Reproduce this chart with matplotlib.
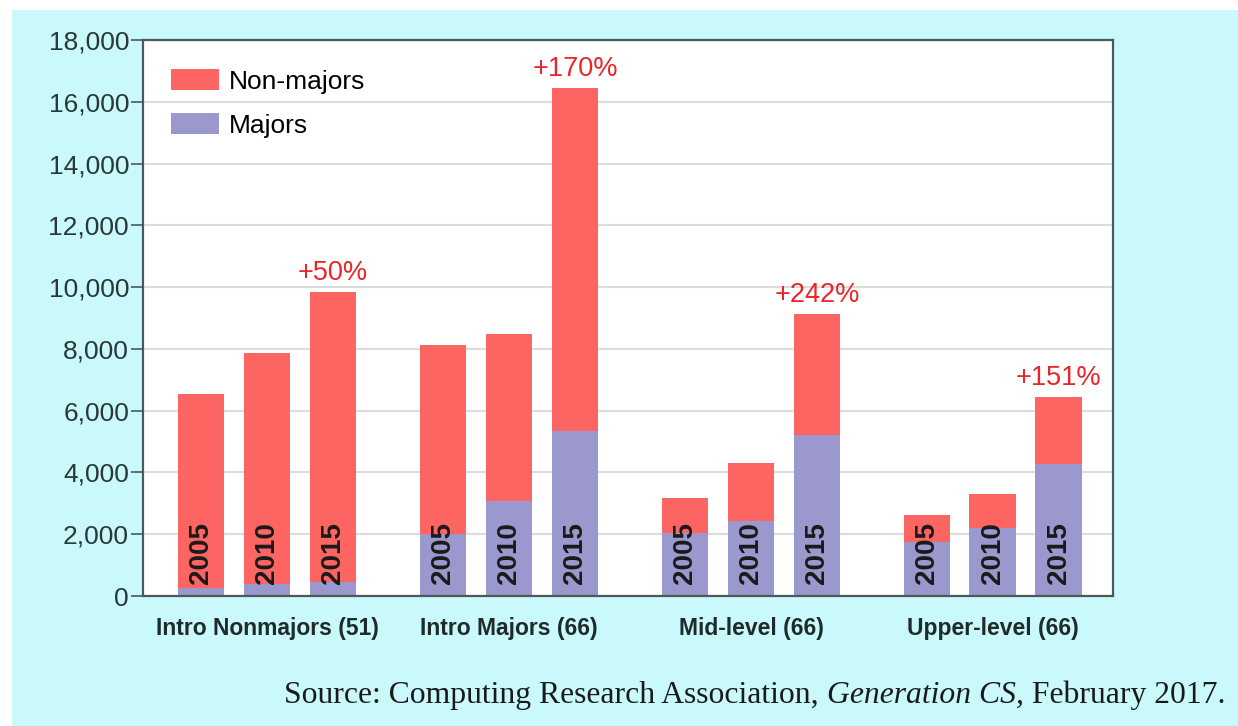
import numpy as np
import matplotlib.pyplot as plt
from matplotlib.patches import Rectangle

groups = ['Intro Nonmajors (51)', 'Intro Majors (66)', 'Mid-level (66)', 'Upper-level (66)']
years = ['2005', '2010', '2015']
majors = np.array([[250, 400, 450],
                   [2000, 3070, 5340],
                   [2030, 2430, 5210],
                   [1750, 2200, 4270]])
totals = np.array([[6540, 7870, 9840],
                   [8130, 8480, 16440],
                   [3170, 4300, 9130],
                   [2620, 3300, 6440]])
non_majors = totals - majors
growth = ['+50%', '+170%', '+242%', '+151%']

RED = '#fd6563'
BLUE = '#9a98cc'
CYAN = '#c9f9fa'
DARK = '#2a3838'

plt.rcParams['font.family'] = ['Liberation Sans', 'DejaVu Sans']

fig = plt.figure(figsize=(12.38, 7.26), dpi=100)
fig.patch.set_facecolor('white')
fig.patches.append(Rectangle((12 / 1238, 0), 1, 1 - 10 / 726, transform=fig.transFigure,
                             facecolor=CYAN, edgecolor='none', zorder=-5))

ax = fig.add_axes([143 / 1238, 130 / 726, 970 / 1238, 556 / 726])
ax.set_facecolor('white')

step = 3.667
w = 0.71
for g in range(len(groups)):
    x = g * step + np.arange(len(years))
    ax.bar(x, majors[g], w, color=BLUE, zorder=2, label='Majors' if g == 0 else None)
    ax.bar(x, non_majors[g], w, bottom=majors[g], color=RED, zorder=2,
           label='Non-majors' if g == 0 else None)
    for i, yr in enumerate(years):
        ax.annotate(yr, (x[i], 0), xytext=(0, 12), textcoords='offset pixels',
                    rotation=90, ha='center', va='bottom', fontsize=20,
                    fontweight='bold', color='#1a1a1a', zorder=3)
    ax.annotate(growth[g], (x[-1], totals[g][-1]), xytext=(0, 6), textcoords='offset pixels',
                ha='center', va='bottom', fontsize=19.5, color='#e8262b', zorder=3)

ax.set_xlim(-0.88, 3 * step + 2 + 0.82)
ax.set_ylim(0, 18000)
ax.set_yticks(np.arange(0, 18001, 2000))
ax.set_yticklabels([f'{v:,}' for v in range(0, 18001, 2000)], fontsize=19, color=DARK)
ax.set_xticks([g * step + 1 for g in range(len(groups))])
ax.set_xticklabels(groups, fontsize=16.5, fontweight='bold', color='#1f2a2a')
ax.tick_params(axis='x', length=0, pad=15)
ax.tick_params(axis='y', length=9, width=1.2, color='#4a5a5a', pad=1)
ax.grid(axis='y', color='#dcdcdc', linewidth=1.5, zorder=1)
ax.set_axisbelow(True)
for s in ax.spines.values():
    s.set_color('#4a5a5a')
    s.set_linewidth(1.6)

handles, labels = ax.get_legend_handles_labels()
ax.legend(handles[::-1], labels[::-1], loc='upper left', bbox_to_anchor=(0.004, 0.99),
          frameon=False, fontsize=19, handlelength=1.85, handleheight=0.85,
          handletextpad=0.35, labelspacing=0.72)

# source line with italic title
fig.canvas.draw()
r = fig.canvas.get_renderer()
y_src = 1 - 695 / 726
t3 = fig.text(1225 / 1238, y_src, ' February 2017.', ha='right', va='center',
              family='Liberation Serif', fontsize=22.8, color='#1a1a1a')
bb = t3.get_window_extent(r)
t2 = fig.text(bb.x0 / fig.bbox.width, y_src, 'Generation CS,', ha='right', va='center',
              family='Liberation Serif', style='italic', fontsize=22.8, color='#1a1a1a')
bb = t2.get_window_extent(r)
fig.text(bb.x0 / fig.bbox.width, y_src, 'Source: Computing Research Association, ', ha='right',
         va='center', family='Liberation Serif', fontsize=22.8, color='#1a1a1a')

fig.savefig('out.png', dpi=100, facecolor=fig.get_facecolor())
